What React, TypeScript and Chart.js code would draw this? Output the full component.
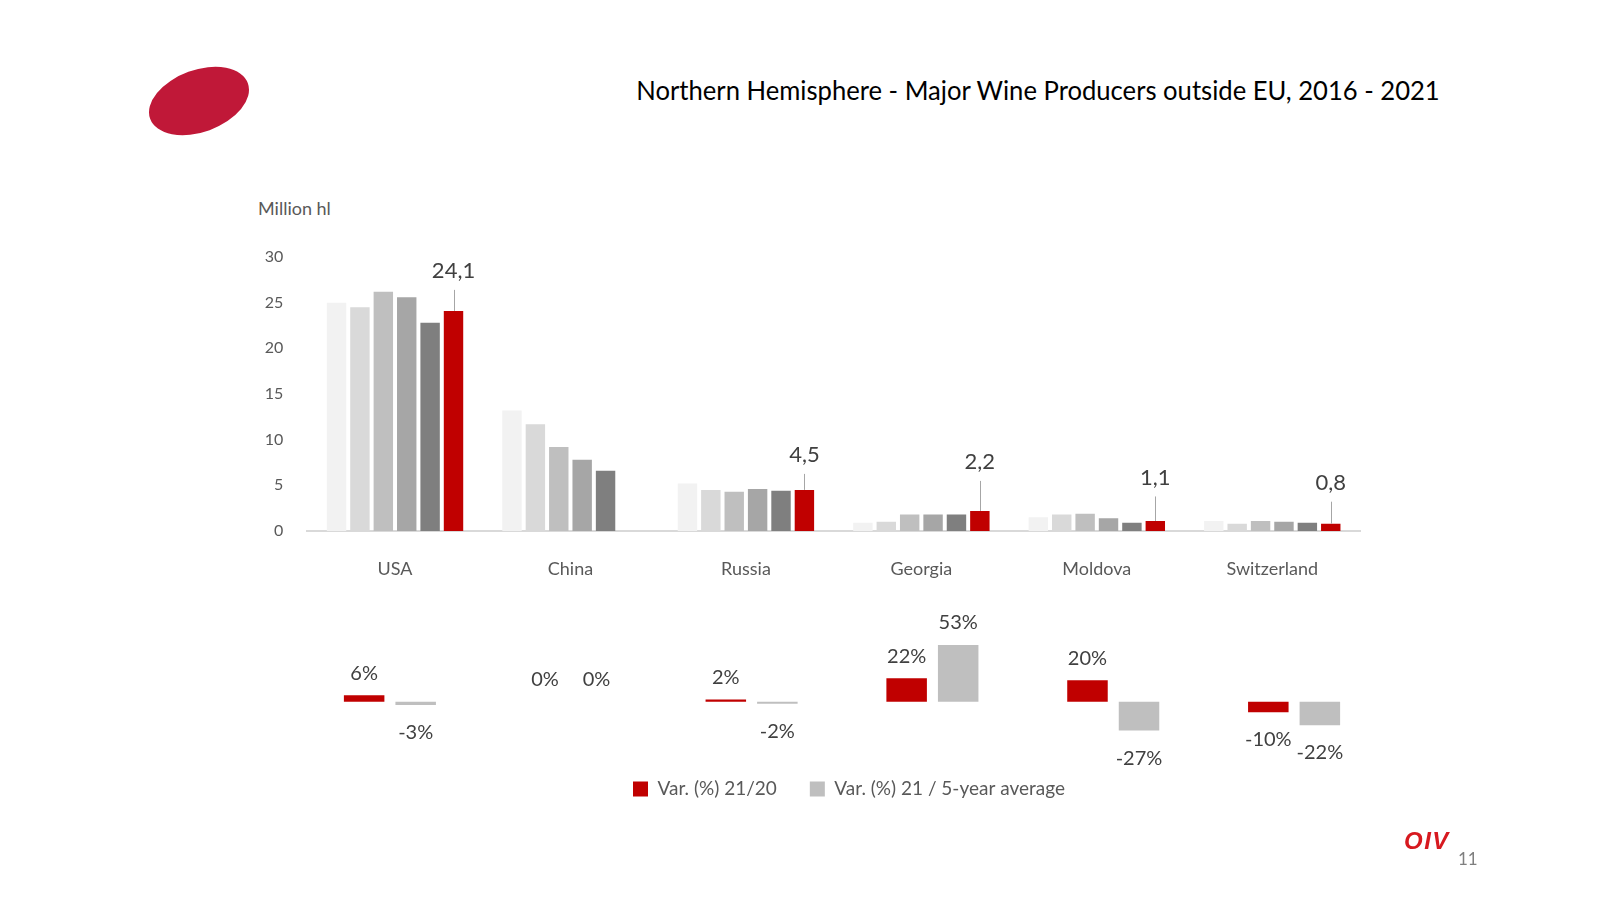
import React, { useEffect, useRef } from 'react';
import { Chart, registerables } from 'chart.js';

Chart.register(...registerables);

const FONT = "Lato, 'Open Sans', 'DejaVu Sans', sans-serif";

// ---------------- data ----------------
const countries = ['USA', 'China', 'Russia', 'Georgia', 'Moldova', 'Switzerland'];
const years = ['2016', '2017', '2018', '2019', '2020', '2021'];
const prod2016 = [25.0, 13.2, 5.2, 0.9, 1.5, 1.1];
const prod2017 = [24.5, 11.7, 4.5, 1.0, 1.8, 0.8];
const prod2018 = [26.2, 9.2, 4.3, 1.8, 1.9, 1.1];
const prod2019 = [25.6, 7.8, 4.6, 1.8, 1.4, 1.0];
const prod2020 = [22.8, 6.6, 4.4, 1.8, 0.9, 0.9];
const prod2021 = [24.1, null, 4.5, 2.2, 1.1, 0.8];
const yAxisMin = 0;
const yAxisMax = 30;
const yAxisStep = 5;
const yAxisTitle = 'Million hl';

const varSeriesNames = ['Var. (%) 21/20', 'Var. (%) 21 / 5-year average'];
const var2120 = [6, 0, 2, 22, 20, -10];
const var5yr = [-3, 0, -2, 53, -27, -22];

const chartTitle = 'Northern Hemisphere - Major Wine Producers outside EU, 2016 - 2021';

// ---------------- styles ----------------
const yearColors = ['#f2f2f2', '#d9d9d9', '#bfbfbf', '#a6a6a6', '#7f7f7f', '#c00000'];
const varColors = ['#c00000', '#bfbfbf'];
const labelLift = [40, 0, 35, 49, 43.5, 41];

const fmtComma = (v: number) => v.toFixed(1).replace('.', ',');

// upper chart geometry (page coords)
const UP = { left: 200, top: 170, width: 1200, height: 430 };
const UP_AREA = { left: 307.3, right: 1360, top: 257, bottom: 531 };
const UP_YW = 60;
const UP_XH = 50;

// lower chart geometry
const LO = { left: 200, top: 560, width: 1300, height: 280 };
const LO_AREA = { left: 299.5, right: 1384.5, top: 637.5, bottom: 746.6 };
const LO_MIN = -42;
const LO_MAX = 60;
const LEGEND_SHIFT = 7;

const upperLabelPlugin = {
  id: 'upperLabels',
  afterDatasetsDraw(chart: any) {
    const ctx = chart.ctx;
    const di = chart.data.datasets.length - 1;
    const meta = chart.getDatasetMeta(di);
    const data = chart.data.datasets[di].data;
    meta.data.forEach((bar: any, i: number) => {
      const v = data[i];
      if (v == null) return;
      const cy = bar.y - labelLift[i];
      const lx = Math.round(bar.x) + 0.5;
      ctx.save();
      ctx.strokeStyle = '#a6a6a6';
      ctx.lineWidth = 1;
      ctx.beginPath();
      ctx.moveTo(lx, cy + 19);
      ctx.lineTo(lx, bar.y);
      ctx.stroke();
      ctx.fillStyle = '#404040';
      ctx.font = `22px ${FONT}`;
      ctx.textAlign = 'center';
      ctx.textBaseline = 'middle';
      ctx.fillText(fmtComma(v), bar.x, cy);
      ctx.restore();
    });
  },
};

const lowerLabelPlugin = {
  id: 'lowerLabels',
  afterLayout(chart: any) {
    if (chart.legend) {
      chart.legend.left += LEGEND_SHIFT;
      chart.legend.right += LEGEND_SHIFT;
    }
  },
  afterDatasetsDraw(chart: any) {
    const ctx = chart.ctx;
    chart.data.datasets.forEach((ds: any, di: number) => {
      const meta = chart.getDatasetMeta(di);
      meta.data.forEach((bar: any, i: number) => {
        const v = ds.data[i];
        const y = v >= 0 ? bar.y - 22 : bar.y + 27.5;
        ctx.save();
        ctx.fillStyle = '#404040';
        ctx.font = `20px ${FONT}`;
        ctx.textAlign = 'center';
        ctx.textBaseline = 'middle';
        ctx.fillText(`${v}%`, bar.x, y);
        ctx.restore();
      });
    });
  },
};

function UpperChart() {
  const ref = useRef<HTMLCanvasElement>(null);
  useEffect(() => {
    const series = [prod2016, prod2017, prod2018, prod2019, prod2020, prod2021];
    const chart = new Chart(ref.current as HTMLCanvasElement, {
      type: 'bar',
      data: {
        labels: countries,
        datasets: years.map((y, i) => ({
          label: y,
          data: series[i] as any,
          backgroundColor: yearColors[i],
          borderWidth: 0,
          categoryPercentage: 0.8,
          barPercentage: 0.83,
        })),
      },
      options: {
        responsive: false,
        animation: false,
        events: [],
        layout: {
          padding: {
            left: UP_AREA.left - UP.left - UP_YW,
            right: UP.left + UP.width - UP_AREA.right,
            top: UP_AREA.top - UP.top,
            bottom: UP.top + UP.height - UP_AREA.bottom - UP_XH,
          },
        },
        plugins: {
          legend: { display: false },
          tooltip: { enabled: false },
        },
        scales: {
          x: {
            grid: { display: false, drawTicks: false },
            border: { display: true, color: '#d9d9d9', width: 2 },
            ticks: { color: '#595959', font: { family: FONT, size: 18 }, padding: 27 },
            afterFit: (s: any) => {
              s.height = UP_XH;
            },
          },
          y: {
            min: yAxisMin,
            max: yAxisMax,
            grid: { display: false, drawTicks: false },
            border: { display: false },
            ticks: { stepSize: yAxisStep, color: '#595959', font: { family: FONT, size: 16 }, padding: 24 },
            afterFit: (s: any) => {
              s.width = UP_YW;
            },
          },
        },
      },
      plugins: [upperLabelPlugin],
    });
    return () => chart.destroy();
  }, []);
  return (
    <canvas
      ref={ref}
      width={UP.width}
      height={UP.height}
      style={{ position: 'absolute', left: UP.left, top: UP.top, width: UP.width, height: UP.height }}
    />
  );
}

function LowerChart() {
  const ref = useRef<HTMLCanvasElement>(null);
  useEffect(() => {
    const series = [var2120, var5yr];
    const chart = new Chart(ref.current as HTMLCanvasElement, {
      type: 'bar',
      data: {
        labels: countries,
        datasets: varSeriesNames.map((n, i) => ({
          label: n,
          data: series[i],
          backgroundColor: varColors[i],
          borderWidth: 0,
          categoryPercentage: 0.57,
          barPercentage: 0.786,
        })),
      },
      options: {
        responsive: false,
        animation: false,
        events: [],
        layout: {
          padding: {
            left: LO_AREA.left - LO.left,
            right: LO.left + LO.width - LO_AREA.right,
            top: LO_AREA.top - LO.top,
            bottom: LO.top + LO.height - LO_AREA.bottom - (19 + 33 + 10),
          },
        },
        plugins: {
          legend: {
            display: true,
            position: 'bottom',
            labels: {
              boxWidth: 15,
              boxHeight: 15,
              padding: 33,
              color: '#595959',
              font: { family: FONT, size: 19 },
            },
          },
          tooltip: { enabled: false },
        },
        scales: {
          x: { display: false },
          y: { display: false, min: LO_MIN, max: LO_MAX },
        },
      },
      plugins: [lowerLabelPlugin],
    });
    return () => chart.destroy();
  }, []);
  return (
    <canvas
      ref={ref}
      width={LO.width}
      height={LO.height}
      style={{ position: 'absolute', left: LO.left, top: LO.top, width: LO.width, height: LO.height }}
    />
  );
}

export default function App() {
  return (
    <div
      style={{
        position: 'absolute',
        left: 0,
        top: 0,
        width: 1600,
        height: 900,
        overflow: 'hidden',
        background: '#ffffff',
        fontFamily: FONT,
      }}
    >
      <div
        style={{
          position: 'absolute',
          left: 147,
          top: 70,
          width: 104,
          height: 62,
          borderRadius: '50%',
          background: '#c01838',
          transform: 'rotate(-20deg)',
        }}
      />
      <div
        style={{
          position: 'absolute',
          left: 538,
          top: 77,
          width: 1000,
          textAlign: 'center',
          fontSize: 26.5,
          lineHeight: 1,
          color: '#000000',
          whiteSpace: 'nowrap',
          transform: 'scaleX(0.967)',
          transformOrigin: '500px 50%',
        }}
      >
        {chartTitle}
      </div>
      <div
        style={{
          position: 'absolute',
          left: 258,
          top: 199,
          fontSize: 18,
          lineHeight: 1,
          color: '#595959',
          whiteSpace: 'nowrap',
        }}
      >
        {yAxisTitle}
      </div>
      <UpperChart />
      <LowerChart />
      <div
        style={{
          position: 'absolute',
          left: 1404,
          top: 829,
          fontSize: 24,
          lineHeight: 1,
          fontWeight: 700,
          fontStyle: 'italic',
          letterSpacing: 1.5,
          fontFamily: "'Liberation Sans', Arial, sans-serif",
          color: '#d7191f',
        }}
      >
        OIV
      </div>
      <div
        style={{
          position: 'absolute',
          left: 1458,
          top: 850,
          fontSize: 17,
          lineHeight: 1,
          color: '#7f7f7f',
        }}
      >
        11
      </div>
    </div>
  );
}
